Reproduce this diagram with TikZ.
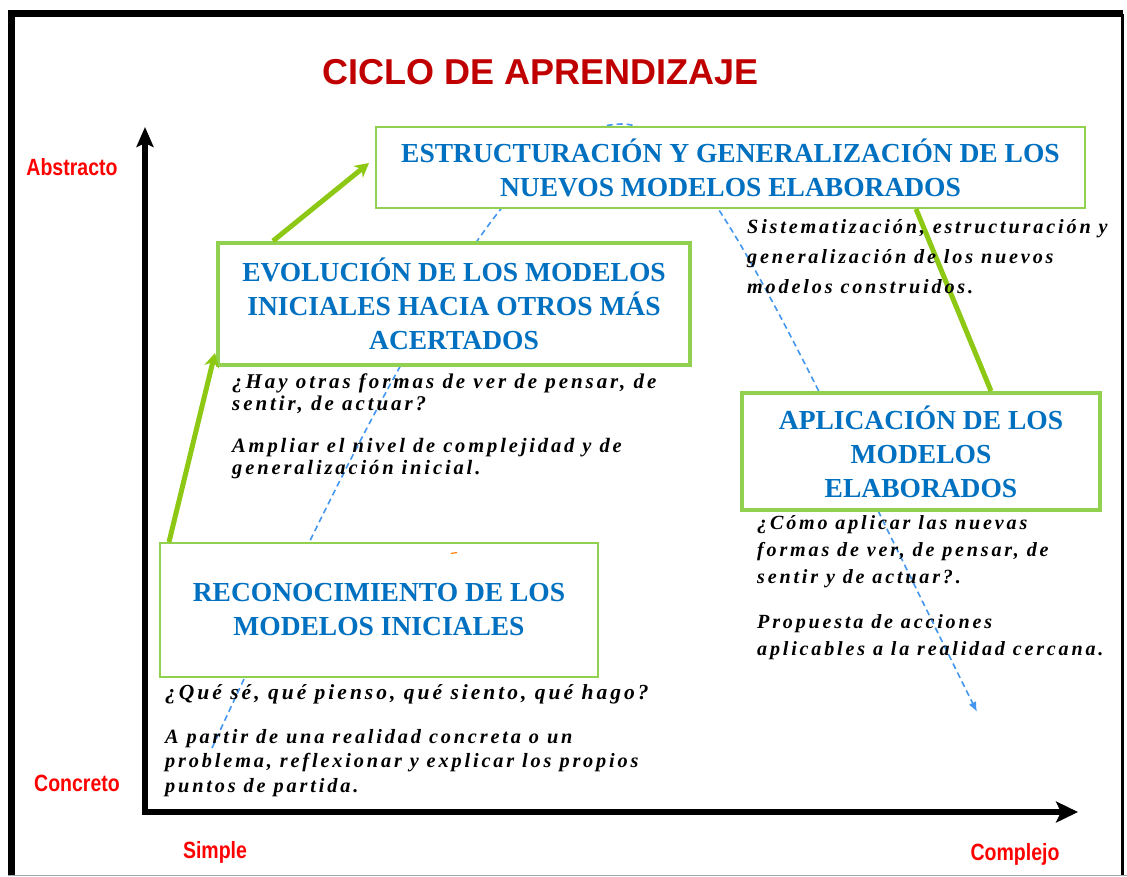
\documentclass[tikz,border=0pt]{standalone}
\usepackage{fontspec}
\setmainfont{Liberation Serif}
\newfontfamily\arialfont{Liberation Sans}
\newfontfamily\narrowfont[FakeStretch=0.83]{Liberation Sans}
\newfontfamily\handfont[LetterSpace=14]{Liberation Serif}
\usetikzlibrary{arrows.meta,calc}
\definecolor{titlered}{RGB}{192,0,0}
\definecolor{axred}{RGB}{255,0,0}
\definecolor{boxblue}{RGB}{0,112,192}
\definecolor{boxgreen}{RGB}{146,208,80}
\definecolor{arrowgreen}{RGB}{140,200,20}
\definecolor{curveblue}{RGB}{66,150,240}
\begin{document}
\begin{tikzpicture}[x=1pt,y=-1pt,
 box/.style={draw=boxgreen, fill=white, align=center, text=boxblue,
   font=\bfseries\fontsize{27.5}{34}\selectfont, inner sep=0pt},
 hand/.style={anchor=base west, align=left, inner sep=0pt,
   font=\handfont\bfseries\itshape\fontsize{21}{22}\selectfont},
 axlabel/.style={text=axred, font=\narrowfont\bfseries\fontsize{23.5}{26}\selectfont,
   anchor=base, inner sep=0pt},
 axisline/.style={line width=5.5pt, black},
 garrow/.style={line width=5pt, arrowgreen, -{Stealth[length=14pt,width=15pt]}},
 gline/.style={line width=5pt, arrowgreen},
 cycle curve/.style={curveblue, line width=1.6pt, dash pattern=on 6pt off 4pt,
   -{Latex[length=10pt,width=8pt]}}
]
\useasboundingbox (0,0) rectangle (1127,876);
% frame
\draw[line width=7pt] (11.5,876) -- (11.5,13.5) -- (1122.5,13.5);
\draw[line width=2.5pt] (1122.5,13.5) -- (1122.5,876);
\draw[gray!70, line width=1pt] (8,875.5) -- (1127,875.5);
% title
\node[anchor=base, text=titlered, inner sep=0pt,
  font=\arialfont\bfseries\fontsize{36}{40}\selectfont] (title) at (541,84) {CICLO DE APRENDIZAJE};
% axes
\coordinate (O) at (145,812);
\coordinate (ytip) at (145,127);
\coordinate (xtip) at (1078,812);
\draw[axisline, {Stealth[length=20pt,width=17pt,inset=4pt]}-{Stealth[length=22pt,width=21pt,inset=5pt]}]
  (ytip) -- (O) -- (xtip);
\node[axlabel] (abstracto) at (72,175) {Abstracto};
\node[axlabel] (concreto) at (77,791) {Concreto};
\node[axlabel] (simple) at (215,858) {Simple};
\node[axlabel] (complejo) at (1015,860) {Complejo};
% dashed cycle curve
\coordinate (cstart) at (212,748);
\coordinate (ctop) at (622,124);
\coordinate (cend) at (977,712);
\draw[cycle curve] (cstart) .. controls (400,340) and (520,124) .. (ctop)
   .. controls (700,124) and (790,335) .. (cend);
% boxes
\node[box, line width=2pt, minimum width=709pt, minimum height=81pt] (estr) at (730.5,167.5)
  {ESTRUCTURACIÓN Y GENERALIZACIÓN DE LOS\\NUEVOS MODELOS ELABORADOS};
\node[box, line width=4pt, minimum width=472pt, minimum height=122pt] (evo) at (454,304)
  {EVOLUCIÓN DE LOS MODELOS\\INICIALES HACIA OTROS MÁS\\ACERTADOS};
\node[box, line width=4pt, minimum width=358pt, minimum height=117pt] (aplic) at (921,451.5)
  {APLICACIÓN DE LOS\\MODELOS\\ELABORADOS};
\node[box, line width=2pt, minimum width=438pt, minimum height=134pt] (reco) at (379,610)
  {RECONOCIMIENTO DE LOS\\MODELOS INICIALES};
% green connectors
\draw[garrow] ($(reco.north west)+(10,0)$) -- ($(evo.south west)+(-1,-14)$);
\draw[garrow] ($(evo.north west)+(57,0)$) -- ($(estr.west)+(-6,-4.5)$);
\draw[gline] ($(estr.south west)+(541,0)$) -- ($(aplic.north west)+(251,0)$);
% small orange mark
\draw[orange, line width=1.2pt] (451,553.5) -- (457,552.5);
% handwritten texts (base anchor = baseline of last line)
\node[hand] (evoq) at (232,410) {¿Hay otras formas de ver de pensar, de\\sentir, de actuar?};
\node[hand, font=\handfont\bfseries\itshape\fontsize{20.5}{22}\selectfont] (evoa) at (232,474)
  {Ampliar el nivel de complejidad y de\\generalización inicial.};
\node[hand, font=\handfont\bfseries\itshape\fontsize{20.2}{30}\selectfont] (estrt) at (747,293)
  {Sistematización, estructuración y\\generalización de los nuevos\\modelos construidos.};
\node[hand, font=\handfont\bfseries\itshape\fontsize{20.1}{27}\selectfont] (aplicq) at (757,583)
  {¿Cómo aplicar las nuevas\\formas de ver, de pensar, de\\sentir y de actuar?.};
\node[hand, font=\handfont\bfseries\itshape\fontsize{20.1}{27}\selectfont] (aplicp) at (757,655)
  {Propuesta de acciones\\aplicables a la realidad cercana.};
\node[hand, font=\handfont\bfseries\itshape\fontsize{21.5}{24}\selectfont] (recoq) at (165,699)
  {¿Qué sé, qué pienso, qué siento, qué hago?};
\node[hand, font=\handfont\bfseries\itshape\fontsize{20.3}{24.5}\selectfont] (recoa) at (165,792)
  {A partir de una realidad concreta o un\\problema, reflexionar y explicar los propios\\puntos de partida.};
\end{tikzpicture}
\end{document}
